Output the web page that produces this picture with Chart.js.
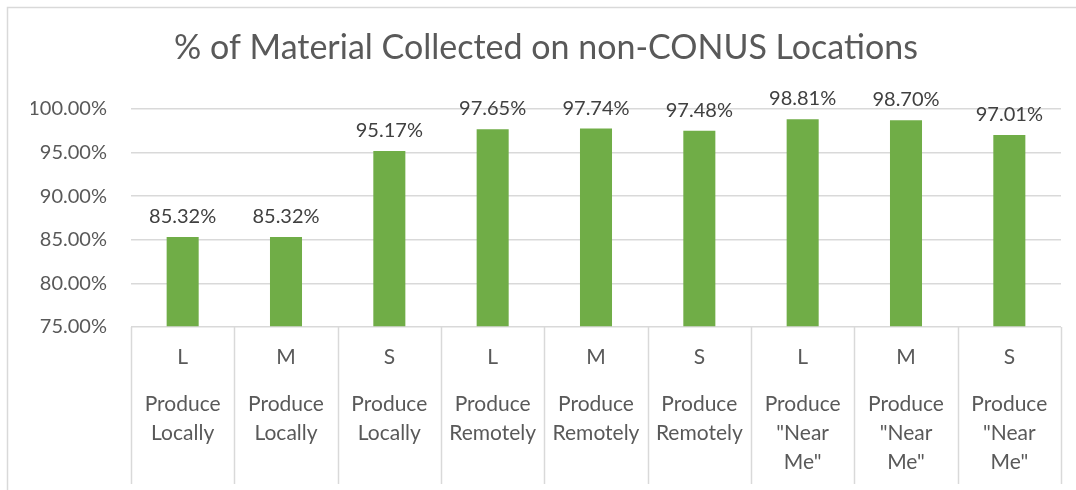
<!DOCTYPE html>
<html><head><meta charset="utf-8">
<script src="https://cdn.jsdelivr.net/npm/chart.js@4/dist/chart.umd.min.js"></script>
<style>html,body{margin:0;padding:0;background:#fff}#wrap{width:1076px;height:490px}</style>
</head><body><div id="wrap"><canvas id="c" width="1076" height="490"></canvas></div>
<script>
const title = '% of Material Collected on non-CONUS Locations';
const sizes = ['L','M','S','L','M','S','L','M','S'];
const groups = [
  ['Produce','Locally'],['Produce','Locally'],['Produce','Locally'],
  ['Produce','Remotely'],['Produce','Remotely'],['Produce','Remotely'],
  ['Produce','"Near','Me"'],['Produce','"Near','Me"'],['Produce','"Near','Me"']
];
const values = [0.8532,0.8532,0.9517,0.9765,0.9774,0.9748,0.9881,0.9870,0.9701];
const valueLabels = ['85.32%','85.32%','95.17%','97.65%','97.74%','97.48%','98.81%','98.70%','97.01%'];
const yTicks = [0.75,0.80,0.85,0.90,0.95,1.00];

const FONT = 'Lato, "Open Sans", sans-serif';
const GRID = '#d9d9d9';
const TXT = '#595959';

const deco = {
  id:'deco',
  beforeDraw(chart){
    const ctx = chart.ctx;
    ctx.save();
    ctx.fillStyle='#fff';ctx.fillRect(0,0,chart.width,chart.height);
    ctx.strokeStyle=GRID;ctx.lineWidth=1.5;
    ctx.beginPath();ctx.moveTo(7.5,chart.height+5);ctx.lineTo(7.5,7.5);ctx.lineTo(chart.width+5,7.5);ctx.stroke();
    ctx.restore();
  },
  afterDraw(chart){
    const ctx = chart.ctx, x = chart.scales.x, a = chart.chartArea;
    ctx.save();
    ctx.strokeStyle=GRID;ctx.lineWidth=1.5;
    const n = sizes.length, w = (a.right-a.left)/n;
    for(let i=0;i<=n;i++){
      const px = Math.round(a.left + i*w)+0.5;
      ctx.beginPath();ctx.moveTo(px,a.bottom);ctx.lineTo(px,484);ctx.stroke();
    }
    ctx.fillStyle=TXT;ctx.textAlign='center';ctx.textBaseline='middle';
    ctx.font='21px '+FONT;
    for(let i=0;i<n;i++){
      const cx = x.getPixelForValue(i);
      ctx.fillText(sizes[i],cx,357);
      groups[i].forEach((t,j)=>ctx.fillText(t,cx,404+29*j));
    }
    ctx.fillStyle='#404040';ctx.font='20px '+FONT;ctx.textBaseline='alphabetic';
    const meta = chart.getDatasetMeta(0);
    meta.data.forEach((bar,i)=>{
      ctx.fillText(valueLabels[i],bar.x,bar.y-14);
    });
    ctx.restore();
  }
};

new Chart(document.getElementById('c'),{
  type:'bar',
  data:{labels:sizes,datasets:[{data:values,backgroundColor:'#70AD47',borderWidth:0,barPercentage:0.31,categoryPercentage:1,base:0.75}]},
  options:{
    responsive:false,animation:false,
    layout:{padding:{left:31,right:15,bottom:163,top:0}},
    plugins:{legend:{display:false},tooltip:{enabled:false},
      title:{display:true,text:title,color:TXT,font:{family:FONT,size:34,weight:'normal'},padding:{top:28,bottom:40}}},
    scales:{
      x:{display:false},
      y:{min:0.75,max:1.0,
        afterBuildTicks(s){s.ticks=yTicks.map(v=>({value:v}));},
        afterFit(s){s.width=100;},
        grid:{color:GRID,lineWidth:1.5,drawTicks:false},border:{display:false},
        ticks:{padding:24,color:TXT,font:{family:FONT,size:20},callback:v=>(v*100).toFixed(2)+'%'}}
    }
  },
  plugins:[deco]
});
</script></body></html>
